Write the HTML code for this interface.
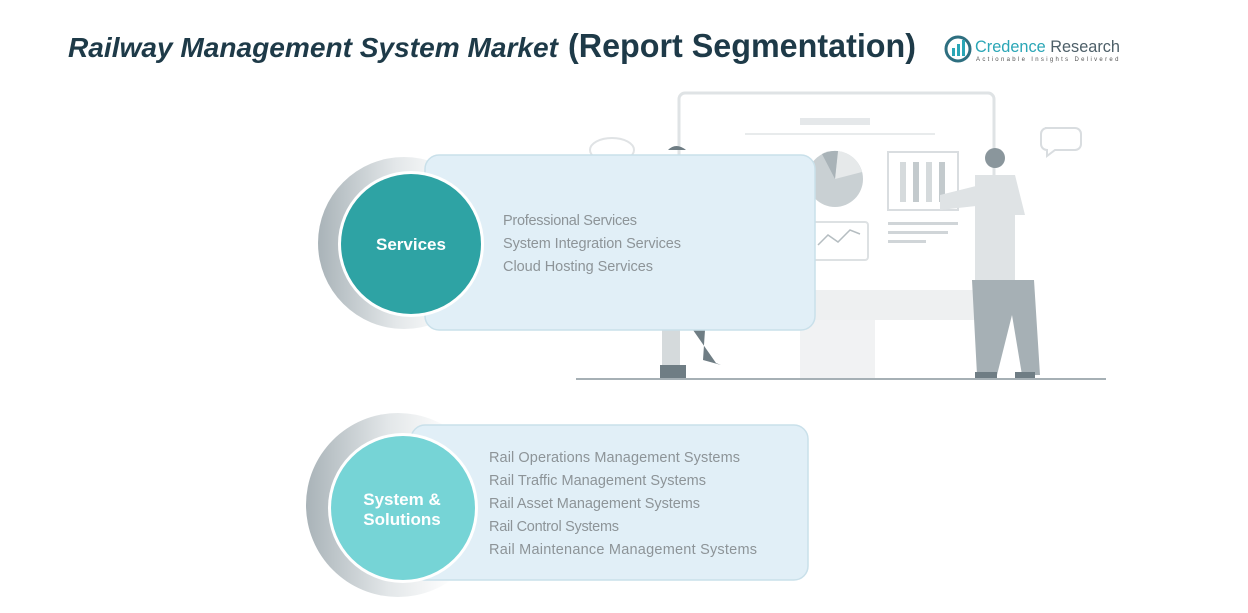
<!DOCTYPE html>
<html><head><meta charset="utf-8"><style>
body{margin:0;width:1248px;height:613px;background:#fff;overflow:hidden;font-family:"Liberation Sans",sans-serif}
svg{position:absolute;left:0;top:0}
</style></head><body>
<svg width="1248" height="613" viewBox="0 0 1248 613" xmlns="http://www.w3.org/2000/svg">
<defs>
<linearGradient id="cres" x1="0" y1="0" x2="1" y2="0">
<stop offset="0" stop-color="#a9b3b8"/><stop offset="0.45" stop-color="#e3e7e9"/><stop offset="0.8" stop-color="#ffffff"/>
</linearGradient>
</defs>
<!-- title -->
<text x="68" y="57" font-size="28" font-weight="bold" font-style="italic" fill="#1e3a48" textLength="490" lengthAdjust="spacingAndGlyphs">Railway Management System Market</text>
<text x="568" y="57" font-size="33" font-weight="bold" fill="#1e3a48" textLength="348" lengthAdjust="spacingAndGlyphs">(Report Segmentation)</text>
<!-- logo -->
<circle cx="958" cy="49" r="12" fill="none" stroke="#2e6f80" stroke-width="3"/>
<rect x="952" y="48" width="3" height="8" fill="#2aa6b6"/><rect x="957" y="44" width="3" height="12" fill="#2aa6b6"/><rect x="962" y="40" width="3" height="16" fill="#2aa6b6"/>
<text x="975" y="52" font-size="17" fill="#2aa6b6" textLength="145" lengthAdjust="spacingAndGlyphs">Credence <tspan fill="#4d5f68">Research</tspan></text>
<text x="976" y="61" font-size="6" letter-spacing="1.6" fill="#555" textLength="144">Actionable Insights Delivered</text>
<!-- illustration -->
<rect x="679" y="93" width="315" height="200" rx="6" fill="none" stroke="#dfe3e5" stroke-width="3"/>
<rect x="681" y="290" width="311" height="30" fill="#eef0f1"/>
<rect x="800" y="320" width="75" height="60" fill="#f1f2f3"/>
<rect x="800" y="118" width="70" height="7" fill="#e5e8ea"/>
<rect x="745" y="133" width="190" height="2" fill="#e8ebec"/>
<circle cx="835" cy="179" r="28" fill="#c9d0d3"/><path d="M835 179 L838 151 A28 28 0 0 1 862 172 Z" fill="#e6e9ea"/><path d="M835 179 L822 154 A28 28 0 0 1 838 151Z" fill="#a9b3b8"/>
<rect x="888" y="152" width="70" height="58" fill="none" stroke="#d9dde0" stroke-width="2"/>
<rect x="900" y="162" width="6" height="40" fill="#d5dadc"/><rect x="913" y="162" width="6" height="40" fill="#c3cacd"/><rect x="926" y="162" width="6" height="40" fill="#d5dadc"/><rect x="939" y="162" width="6" height="40" fill="#c3cacd"/>
<rect x="888" y="222" width="70" height="3" fill="#d0d5d8"/><rect x="888" y="231" width="60" height="3" fill="#d0d5d8"/><rect x="888" y="240" width="38" height="3" fill="#d0d5d8"/>
<rect x="812" y="222" width="56" height="38" rx="3" fill="none" stroke="#dde1e3" stroke-width="2"/>
<path d="M818 245 L828 235 L838 242 L850 230 L860 234" stroke="#b5bdc1" stroke-width="1.5" fill="none"/>
<path d="M1045 128 h30 a6 6 0 0 1 6 6 v10 a6 6 0 0 1 -6 6 h-20 l-8 6 v-6 a6 6 0 0 1 -6 -6 v-10 a6 6 0 0 1 6 -6Z" fill="none" stroke="#d9dde0" stroke-width="2"/>
<ellipse cx="612" cy="150" rx="22" ry="12" fill="none" stroke="#e0e3e5" stroke-width="2"/>
<!-- man -->
<circle cx="995" cy="158" r="10" fill="#8a969c"/>
<path d="M975 175 h40 l10 40 h-10 v70 h-40 z" fill="#dfe3e5"/>
<path d="M940 195 L980 185 L985 205 L940 210Z" fill="#dfe3e5"/>
<path d="M972 280 h62 l6 95 h-18 l-10 -60 l-15 60 h-20 z" fill="#a6b0b5"/>
<rect x="975" y="372" width="22" height="8" fill="#6f7d84"/><rect x="1015" y="372" width="20" height="8" fill="#6f7d84"/>
<!-- woman legs -->
<rect x="662" y="328" width="18" height="40" fill="#d5dadc"/>
<path d="M693 330 l12 0 l-2 30 l18 5 l-5 -2z" fill="#6f7d84"/>
<rect x="660" y="365" width="26" height="15" fill="#6f7d84"/>
<path d="M668 150 q8 -8 18 0" fill="#6f7d84"/>
<rect x="576" y="378" width="530" height="2" fill="#a6b0b5"/>
<!-- Services -->
<circle cx="404" cy="243" r="86" fill="url(#cres)"/>
<rect x="425" y="155" width="390" height="175" rx="14" fill="#e1eff7" stroke="#c9e0ea" stroke-width="1.5"/>
<circle cx="411" cy="244" r="73" fill="#fff"/>
<circle cx="411" cy="244" r="70" fill="#2ea3a4"/>
<text x="411" y="250" font-size="17" font-weight="bold" fill="#fff" text-anchor="middle">Services</text>
<g font-size="14.5" fill="#8d9498">
<text x="503" y="225" textLength="134">Professional Services</text>
<text x="503" y="248" textLength="178">System Integration Services</text>
<text x="503" y="271" textLength="150">Cloud Hosting Services</text>
</g>
<!-- System & Solutions -->
<circle cx="398" cy="505" r="92" fill="url(#cres)"/>
<rect x="411" y="425" width="397" height="155" rx="14" fill="#e1eff7" stroke="#c9e0ea" stroke-width="1.5"/>
<circle cx="403" cy="508" r="75" fill="#fff"/>
<circle cx="403" cy="508" r="72" fill="#76d4d6"/>
<text x="402" y="505" font-size="17" font-weight="bold" fill="#fff" text-anchor="middle">System &amp;</text>
<text x="402" y="525" font-size="17" font-weight="bold" fill="#fff" text-anchor="middle">Solutions</text>
<g font-size="14.5" fill="#8d9498">
<text x="489" y="462" textLength="251">Rail Operations Management Systems</text>
<text x="489" y="485" textLength="217">Rail Traffic Management Systems</text>
<text x="489" y="508" textLength="211">Rail Asset Management Systems</text>
<text x="489" y="531" textLength="130">Rail Control Systems</text>
<text x="489" y="554" textLength="268">Rail Maintenance Management Systems</text>
</g>
</svg>
</body></html>
